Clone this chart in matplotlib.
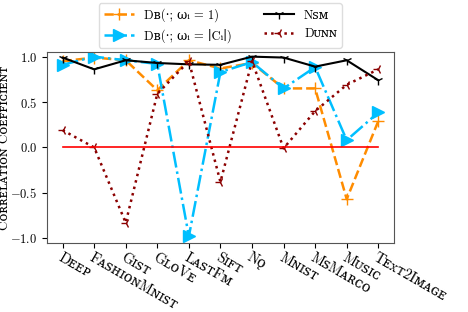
import numpy as np
import matplotlib
matplotlib.use("Agg")
import matplotlib.pyplot as plt

plt.rcParams["font.family"] = ["cmr10", "DejaVu Serif"]
plt.rcParams["mathtext.fontset"] = "cm"
plt.rcParams["axes.formatter.use_mathtext"] = True

datasets = ["Dᴇᴇᴘ", "FᴀꜱʜɪᴏɴMɴɪꜱᴛ", "Gɪꜱᴛ", "GʟᴏVᴇ", "LᴀꜱᴛFᴍ", "Sɪꜰᴛ",
            "Nǫ", "Mɴɪꜱᴛ", "MꜱMᴀʀᴄᴏ", "Mᴜꜱɪᴄ", "Tᴇxᴛ2Iᴍᴀɢᴇ"]

db_one = [0.95, 0.99, 0.96, 0.63, 0.96, 0.87, 0.93, 0.65, 0.65, -0.57, 0.29]
db_size = [0.91, 1.00, 0.96, 0.92, -0.98, 0.83, 0.94, 0.65, 0.885, 0.08, 0.385]
nsm = [0.99, 0.86, 0.96, 0.93, 0.915, 0.91, 1.00, 0.99, 0.89, 0.96, 0.74]
dunn = [0.19, 0.00, -0.83, 0.59, 0.95, -0.38, 0.95, -0.01, 0.40, 0.69, 0.86]

x = np.arange(len(datasets))

fig = plt.figure(figsize=(4.68, 3.12), dpi=100)
ax = fig.add_axes([0.100, 0.222, 0.742, 0.611])

ax.plot(x, db_one, color="darkorange", linestyle="--", linewidth=1.8,
        marker="+", markersize=8, label="Dʙ(·; ωᵢ = 1)")
ax.plot(x, db_size, color="deepskyblue", linestyle="-.", linewidth=1.8,
        marker=">", markersize=8, label="Dʙ(·; ωᵢ = ∣Cᵢ∣)")
ax.plot(x, nsm, color="black", linestyle="-", linewidth=1.5,
        marker="1", markersize=7, label="Nꜱᴍ")
ax.plot(x, dunn, color="darkred", linestyle=":", linewidth=1.8,
        marker="3", markersize=7, label="Dᴜɴɴ")
ax.plot([x[0], x[-1]], [0, 0], color="red", linewidth=1.2)

ax.set_ylim(-1.05, 1.05)
ax.set_yticks([-1.0, -0.5, 0.0, 0.5, 1.0])
ax.set_xticks(x)
ax.set_xticklabels(datasets, rotation=-30, ha="left", rotation_mode="anchor",
                   fontsize=10.4)
ax.tick_params(axis="y", labelsize=9)
ax.tick_params(axis="x", pad=2)
ax.set_ylabel("Cᴏʀʀᴇʟᴀᴛɪᴏɴ Cᴏᴇꜰꜰɪᴄɪᴇɴᴛ", fontsize=9.5)
ax.yaxis.set_label_coords(-0.102, 0.5)
for s in ax.spines.values():
    s.set_color("#555555")

ax.legend(loc="lower center", bbox_to_anchor=(0.5, 0.99), ncol=2,
          fontsize=9, columnspacing=2.6, handlelength=2.4, framealpha=1,
          edgecolor="#dddddd")

fig.savefig("out.png", dpi=100)
